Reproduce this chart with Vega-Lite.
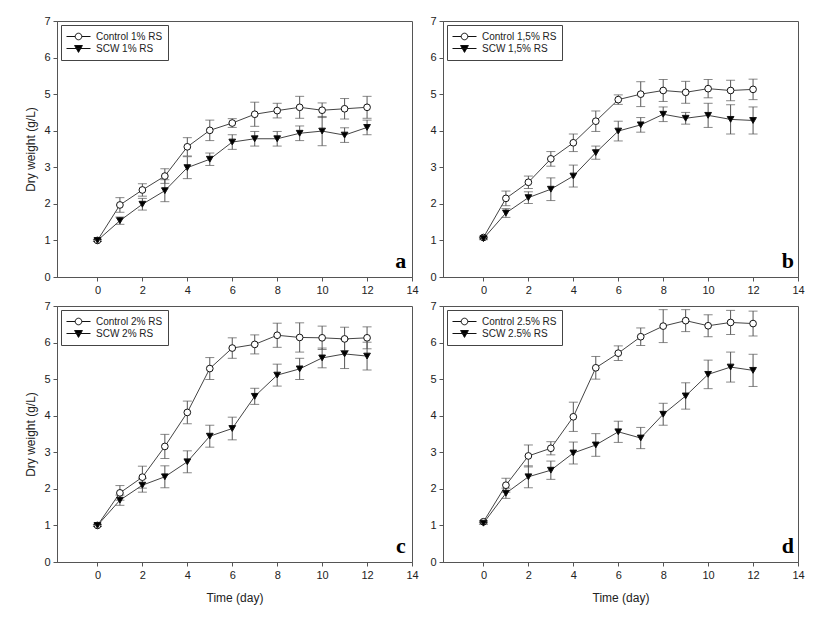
{
  "$schema": "https://vega.github.io/schema/vega-lite/v6.json",
  "background": "white",
  "padding": {"left": 24, "top": 14, "right": 5, "bottom": 5},
  "spacing": {"row": 3, "column": 10},
  "columns": 2,
  "datasets": {
    "a": [
      {"s": "Control 1% RS", "d": 0, "m": 1.0, "e": 0.03},
      {"s": "Control 1% RS", "d": 1, "m": 1.97, "e": 0.2},
      {"s": "Control 1% RS", "d": 2, "m": 2.38, "e": 0.17},
      {"s": "Control 1% RS", "d": 3, "m": 2.76, "e": 0.2},
      {"s": "Control 1% RS", "d": 4, "m": 3.56, "e": 0.25},
      {"s": "Control 1% RS", "d": 5, "m": 4.01, "e": 0.28},
      {"s": "Control 1% RS", "d": 6, "m": 4.21, "e": 0.12},
      {"s": "Control 1% RS", "d": 7, "m": 4.45, "e": 0.33},
      {"s": "Control 1% RS", "d": 8, "m": 4.55, "e": 0.2},
      {"s": "Control 1% RS", "d": 9, "m": 4.64, "e": 0.3},
      {"s": "Control 1% RS", "d": 10, "m": 4.56, "e": 0.2},
      {"s": "Control 1% RS", "d": 11, "m": 4.6, "e": 0.28},
      {"s": "Control 1% RS", "d": 12, "m": 4.64, "e": 0.3},
      {"s": "SCW 1% RS", "d": 0, "m": 1.0, "e": 0.03},
      {"s": "SCW 1% RS", "d": 1, "m": 1.54, "e": 0.1},
      {"s": "SCW 1% RS", "d": 2, "m": 1.99, "e": 0.16},
      {"s": "SCW 1% RS", "d": 3, "m": 2.36, "e": 0.3},
      {"s": "SCW 1% RS", "d": 4, "m": 2.99, "e": 0.3},
      {"s": "SCW 1% RS", "d": 5, "m": 3.22, "e": 0.17},
      {"s": "SCW 1% RS", "d": 6, "m": 3.69, "e": 0.2},
      {"s": "SCW 1% RS", "d": 7, "m": 3.78, "e": 0.2},
      {"s": "SCW 1% RS", "d": 8, "m": 3.78, "e": 0.2},
      {"s": "SCW 1% RS", "d": 9, "m": 3.93, "e": 0.2},
      {"s": "SCW 1% RS", "d": 10, "m": 3.99, "e": 0.4},
      {"s": "SCW 1% RS", "d": 11, "m": 3.88, "e": 0.2},
      {"s": "SCW 1% RS", "d": 12, "m": 4.09, "e": 0.2}
    ],
    "b": [
      {"s": "Control 1,5% RS", "d": 0, "m": 1.08, "e": 0.03},
      {"s": "Control 1,5% RS", "d": 1, "m": 2.15, "e": 0.2},
      {"s": "Control 1,5% RS", "d": 2, "m": 2.59, "e": 0.17},
      {"s": "Control 1,5% RS", "d": 3, "m": 3.23, "e": 0.2},
      {"s": "Control 1,5% RS", "d": 4, "m": 3.67, "e": 0.24},
      {"s": "Control 1,5% RS", "d": 5, "m": 4.26, "e": 0.28},
      {"s": "Control 1,5% RS", "d": 6, "m": 4.85, "e": 0.13},
      {"s": "Control 1,5% RS", "d": 7, "m": 5.0, "e": 0.34},
      {"s": "Control 1,5% RS", "d": 8, "m": 5.1, "e": 0.3},
      {"s": "Control 1,5% RS", "d": 9, "m": 5.05, "e": 0.3},
      {"s": "Control 1,5% RS", "d": 10, "m": 5.15, "e": 0.25},
      {"s": "Control 1,5% RS", "d": 11, "m": 5.1, "e": 0.28},
      {"s": "Control 1,5% RS", "d": 12, "m": 5.13, "e": 0.28},
      {"s": "SCW 1,5% RS", "d": 0, "m": 1.05, "e": 0.03},
      {"s": "SCW 1,5% RS", "d": 1, "m": 1.75, "e": 0.12},
      {"s": "SCW 1,5% RS", "d": 2, "m": 2.17, "e": 0.16},
      {"s": "SCW 1,5% RS", "d": 3, "m": 2.4, "e": 0.31},
      {"s": "SCW 1,5% RS", "d": 4, "m": 2.76, "e": 0.3},
      {"s": "SCW 1,5% RS", "d": 5, "m": 3.4, "e": 0.18},
      {"s": "SCW 1,5% RS", "d": 6, "m": 3.99, "e": 0.27},
      {"s": "SCW 1,5% RS", "d": 7, "m": 4.16, "e": 0.2},
      {"s": "SCW 1,5% RS", "d": 8, "m": 4.45, "e": 0.2},
      {"s": "SCW 1,5% RS", "d": 9, "m": 4.34, "e": 0.16},
      {"s": "SCW 1,5% RS", "d": 10, "m": 4.42, "e": 0.33},
      {"s": "SCW 1,5% RS", "d": 11, "m": 4.31, "e": 0.4},
      {"s": "SCW 1,5% RS", "d": 12, "m": 4.28, "e": 0.37}
    ],
    "c": [
      {"s": "Control 2% RS", "d": 0, "m": 1.0, "e": 0.03},
      {"s": "Control 2% RS", "d": 1, "m": 1.89, "e": 0.2},
      {"s": "Control 2% RS", "d": 2, "m": 2.32, "e": 0.3},
      {"s": "Control 2% RS", "d": 3, "m": 3.16, "e": 0.33},
      {"s": "Control 2% RS", "d": 4, "m": 4.09, "e": 0.31},
      {"s": "Control 2% RS", "d": 5, "m": 5.29, "e": 0.3},
      {"s": "Control 2% RS", "d": 6, "m": 5.85, "e": 0.28},
      {"s": "Control 2% RS", "d": 7, "m": 5.95, "e": 0.26},
      {"s": "Control 2% RS", "d": 8, "m": 6.2, "e": 0.33},
      {"s": "Control 2% RS", "d": 9, "m": 6.14, "e": 0.4},
      {"s": "Control 2% RS", "d": 10, "m": 6.13, "e": 0.32},
      {"s": "Control 2% RS", "d": 11, "m": 6.1, "e": 0.32},
      {"s": "Control 2% RS", "d": 12, "m": 6.13, "e": 0.3},
      {"s": "SCW 2% RS", "d": 0, "m": 1.0, "e": 0.03},
      {"s": "SCW 2% RS", "d": 1, "m": 1.69, "e": 0.14},
      {"s": "SCW 2% RS", "d": 2, "m": 2.1, "e": 0.19},
      {"s": "SCW 2% RS", "d": 3, "m": 2.33, "e": 0.3},
      {"s": "SCW 2% RS", "d": 4, "m": 2.74, "e": 0.3},
      {"s": "SCW 2% RS", "d": 5, "m": 3.44, "e": 0.3},
      {"s": "SCW 2% RS", "d": 6, "m": 3.65, "e": 0.31},
      {"s": "SCW 2% RS", "d": 7, "m": 4.53, "e": 0.22},
      {"s": "SCW 2% RS", "d": 8, "m": 5.11, "e": 0.3},
      {"s": "SCW 2% RS", "d": 9, "m": 5.28, "e": 0.29},
      {"s": "SCW 2% RS", "d": 10, "m": 5.58, "e": 0.27},
      {"s": "SCW 2% RS", "d": 11, "m": 5.69, "e": 0.4},
      {"s": "SCW 2% RS", "d": 12, "m": 5.63, "e": 0.38}
    ],
    "d": [
      {"s": "Control 2.5% RS", "d": 0, "m": 1.1, "e": 0.03},
      {"s": "Control 2.5% RS", "d": 1, "m": 2.1, "e": 0.19},
      {"s": "Control 2.5% RS", "d": 2, "m": 2.9, "e": 0.3},
      {"s": "Control 2.5% RS", "d": 3, "m": 3.11, "e": 0.18},
      {"s": "Control 2.5% RS", "d": 4, "m": 3.97, "e": 0.4},
      {"s": "Control 2.5% RS", "d": 5, "m": 5.31, "e": 0.31},
      {"s": "Control 2.5% RS", "d": 6, "m": 5.71, "e": 0.2},
      {"s": "Control 2.5% RS", "d": 7, "m": 6.16, "e": 0.24},
      {"s": "Control 2.5% RS", "d": 8, "m": 6.45, "e": 0.45},
      {"s": "Control 2.5% RS", "d": 9, "m": 6.6, "e": 0.3},
      {"s": "Control 2.5% RS", "d": 10, "m": 6.46, "e": 0.3},
      {"s": "Control 2.5% RS", "d": 11, "m": 6.55, "e": 0.33},
      {"s": "Control 2.5% RS", "d": 12, "m": 6.52, "e": 0.34},
      {"s": "SCW 2.5% RS", "d": 0, "m": 1.06, "e": 0.03},
      {"s": "SCW 2.5% RS", "d": 1, "m": 1.88, "e": 0.14},
      {"s": "SCW 2.5% RS", "d": 2, "m": 2.33, "e": 0.3},
      {"s": "SCW 2.5% RS", "d": 3, "m": 2.51, "e": 0.25},
      {"s": "SCW 2.5% RS", "d": 4, "m": 2.98, "e": 0.3},
      {"s": "SCW 2.5% RS", "d": 5, "m": 3.2, "e": 0.31},
      {"s": "SCW 2.5% RS", "d": 6, "m": 3.56, "e": 0.29},
      {"s": "SCW 2.5% RS", "d": 7, "m": 3.39, "e": 0.29},
      {"s": "SCW 2.5% RS", "d": 8, "m": 4.04, "e": 0.3},
      {"s": "SCW 2.5% RS", "d": 9, "m": 4.54, "e": 0.36},
      {"s": "SCW 2.5% RS", "d": 10, "m": 5.13, "e": 0.39},
      {"s": "SCW 2.5% RS", "d": 11, "m": 5.33, "e": 0.41},
      {"s": "SCW 2.5% RS", "d": 12, "m": 5.24, "e": 0.44}
    ]
  },
  "concat": [
    {
      "width": 355, "height": 256,
      "data": {"name": "a"},
      "layer": [
        {"mark": {"type": "errorbar", "color": "#555", "ticks": {"size": 9, "color": "#555"}},
         "encoding": {
           "x": {"field": "d", "type": "quantitative", "scale": {"domain": [-1.8, 14], "nice": false, "zero": false}, "axis": {"title": null, "values": [0, 2, 4, 6, 8, 10, 12, 14]}},
           "y": {"field": "m", "type": "quantitative", "scale": {"domain": [0, 7], "nice": false}, "axis": {"title": "Dry weight (g/L)", "values": [0, 1, 2, 3, 4, 5, 6, 7]}},
           "yError": {"field": "e"}}},
        {"mark": {"type": "line", "color": "#444", "strokeWidth": 1},
         "encoding": {
           "x": {"field": "d", "type": "quantitative", "scale": {"domain": [-1.8, 14], "nice": false, "zero": false}, "axis": {"title": null, "values": [0, 2, 4, 6, 8, 10, 12, 14]}},
           "y": {"field": "m", "type": "quantitative", "scale": {"domain": [0, 7], "nice": false}, "axis": {"title": "Dry weight (g/L)", "values": [0, 1, 2, 3, 4, 5, 6, 7]}},
           "detail": {"field": "s"}}},
        {"mark": {"type": "point", "filled": true, "opacity": 1, "stroke": "#111", "strokeWidth": 1, "size": 45},
         "encoding": {
           "x": {"field": "d", "type": "quantitative", "scale": {"domain": [-1.8, 14], "nice": false, "zero": false}, "axis": {"title": null, "values": [0, 2, 4, 6, 8, 10, 12, 14]}},
           "y": {"field": "m", "type": "quantitative", "scale": {"domain": [0, 7], "nice": false}, "axis": {"title": "Dry weight (g/L)", "values": [0, 1, 2, 3, 4, 5, 6, 7]}},
           "shape": {"condition": {"test": "indexof(datum.s,'SCW')===0", "value": "triangle-down"}, "value": "circle"},
           "fill": {"condition": {"test": "indexof(datum.s,'SCW')===0", "value": "black"}, "value": "white"}}},
        {"mark": {"type": "point", "filled": true, "opacity": 0, "stroke": "#111", "strokeWidth": 1},
         "encoding": {
           "x": {"field": "d", "type": "quantitative", "scale": {"domain": [-1.8, 14], "nice": false, "zero": false}, "axis": {"title": null, "values": [0, 2, 4, 6, 8, 10, 12, 14]}},
           "y": {"field": "m", "type": "quantitative", "scale": {"domain": [0, 7], "nice": false}, "axis": {"title": "Dry weight (g/L)", "values": [0, 1, 2, 3, 4, 5, 6, 7]}},
           "shape": {"field": "s", "type": "nominal", "scale": {"domain": ["Control 1% RS", "SCW 1% RS"], "range": ["M-2,0H-0.55M0.55,0H2M-0.55,0A0.55,0.55,0,1,0,0.55,0A0.55,0.55,0,1,0,-0.55,0Z", "M-2,0H2M-0.65,-0.5L0.65,-0.5L0,0.65Z"]}, "legend": {"title": null}},
           "color": {"field": "s", "type": "nominal", "scale": {"domain": ["Control 1% RS", "SCW 1% RS"], "range": ["white", "black"]}, "legend": {"title": null}}}},
        {"data": {"values": [{"t": "a"}]},
         "mark": {"type": "text", "font": "Liberation Serif", "fontWeight": "bold", "fontSize": 22, "align": "center", "baseline": "alphabetic", "color": "black"},
         "encoding": {
           "x": {"datum": 13.5, "type": "quantitative", "scale": {"domain": [-1.8, 14], "nice": false, "zero": false}, "axis": {"title": null, "values": [0, 2, 4, 6, 8, 10, 12, 14]}},
           "y": {"datum": 0.25, "type": "quantitative", "scale": {"domain": [0, 7], "nice": false}, "axis": {"title": "Dry weight (g/L)", "values": [0, 1, 2, 3, 4, 5, 6, 7]}},
           "text": {"field": "t"}}}
      ]
    },
    {
      "width": 355, "height": 256,
      "data": {"name": "b"},
      "layer": [
        {"mark": {"type": "errorbar", "color": "#555", "ticks": {"size": 9, "color": "#555"}},
         "encoding": {
           "x": {"field": "d", "type": "quantitative", "scale": {"domain": [-1.8, 14], "nice": false, "zero": false}, "axis": {"title": null, "values": [0, 2, 4, 6, 8, 10, 12, 14]}},
           "y": {"field": "m", "type": "quantitative", "scale": {"domain": [0, 7], "nice": false}, "axis": {"title": null, "values": [0, 1, 2, 3, 4, 5, 6, 7]}},
           "yError": {"field": "e"}}},
        {"mark": {"type": "line", "color": "#444", "strokeWidth": 1},
         "encoding": {
           "x": {"field": "d", "type": "quantitative", "scale": {"domain": [-1.8, 14], "nice": false, "zero": false}, "axis": {"title": null, "values": [0, 2, 4, 6, 8, 10, 12, 14]}},
           "y": {"field": "m", "type": "quantitative", "scale": {"domain": [0, 7], "nice": false}, "axis": {"title": null, "values": [0, 1, 2, 3, 4, 5, 6, 7]}},
           "detail": {"field": "s"}}},
        {"mark": {"type": "point", "filled": true, "opacity": 1, "stroke": "#111", "strokeWidth": 1, "size": 45},
         "encoding": {
           "x": {"field": "d", "type": "quantitative", "scale": {"domain": [-1.8, 14], "nice": false, "zero": false}, "axis": {"title": null, "values": [0, 2, 4, 6, 8, 10, 12, 14]}},
           "y": {"field": "m", "type": "quantitative", "scale": {"domain": [0, 7], "nice": false}, "axis": {"title": null, "values": [0, 1, 2, 3, 4, 5, 6, 7]}},
           "shape": {"condition": {"test": "indexof(datum.s,'SCW')===0", "value": "triangle-down"}, "value": "circle"},
           "fill": {"condition": {"test": "indexof(datum.s,'SCW')===0", "value": "black"}, "value": "white"}}},
        {"mark": {"type": "point", "filled": true, "opacity": 0, "stroke": "#111", "strokeWidth": 1},
         "encoding": {
           "x": {"field": "d", "type": "quantitative", "scale": {"domain": [-1.8, 14], "nice": false, "zero": false}, "axis": {"title": null, "values": [0, 2, 4, 6, 8, 10, 12, 14]}},
           "y": {"field": "m", "type": "quantitative", "scale": {"domain": [0, 7], "nice": false}, "axis": {"title": null, "values": [0, 1, 2, 3, 4, 5, 6, 7]}},
           "shape": {"field": "s", "type": "nominal", "scale": {"domain": ["Control 1,5% RS", "SCW 1,5% RS"], "range": ["M-2,0H-0.55M0.55,0H2M-0.55,0A0.55,0.55,0,1,0,0.55,0A0.55,0.55,0,1,0,-0.55,0Z", "M-2,0H2M-0.65,-0.5L0.65,-0.5L0,0.65Z"]}, "legend": {"title": null}},
           "color": {"field": "s", "type": "nominal", "scale": {"domain": ["Control 1,5% RS", "SCW 1,5% RS"], "range": ["white", "black"]}, "legend": {"title": null}}}},
        {"data": {"values": [{"t": "b"}]},
         "mark": {"type": "text", "font": "Liberation Serif", "fontWeight": "bold", "fontSize": 22, "align": "center", "baseline": "alphabetic", "color": "black"},
         "encoding": {
           "x": {"datum": 13.55, "type": "quantitative", "scale": {"domain": [-1.8, 14], "nice": false, "zero": false}, "axis": {"title": null, "values": [0, 2, 4, 6, 8, 10, 12, 14]}},
           "y": {"datum": 0.25, "type": "quantitative", "scale": {"domain": [0, 7], "nice": false}, "axis": {"title": null, "values": [0, 1, 2, 3, 4, 5, 6, 7]}},
           "text": {"field": "t"}}}
      ]
    },
    {
      "width": 355, "height": 256,
      "data": {"name": "c"},
      "layer": [
        {"mark": {"type": "errorbar", "color": "#555", "ticks": {"size": 9, "color": "#555"}},
         "encoding": {
           "x": {"field": "d", "type": "quantitative", "scale": {"domain": [-1.8, 14], "nice": false, "zero": false}, "axis": {"title": "Time (day)", "values": [0, 2, 4, 6, 8, 10, 12, 14]}},
           "y": {"field": "m", "type": "quantitative", "scale": {"domain": [0, 7], "nice": false}, "axis": {"title": "Dry weight (g/L)", "values": [0, 1, 2, 3, 4, 5, 6, 7]}},
           "yError": {"field": "e"}}},
        {"mark": {"type": "line", "color": "#444", "strokeWidth": 1},
         "encoding": {
           "x": {"field": "d", "type": "quantitative", "scale": {"domain": [-1.8, 14], "nice": false, "zero": false}, "axis": {"title": "Time (day)", "values": [0, 2, 4, 6, 8, 10, 12, 14]}},
           "y": {"field": "m", "type": "quantitative", "scale": {"domain": [0, 7], "nice": false}, "axis": {"title": "Dry weight (g/L)", "values": [0, 1, 2, 3, 4, 5, 6, 7]}},
           "detail": {"field": "s"}}},
        {"mark": {"type": "point", "filled": true, "opacity": 1, "stroke": "#111", "strokeWidth": 1, "size": 45},
         "encoding": {
           "x": {"field": "d", "type": "quantitative", "scale": {"domain": [-1.8, 14], "nice": false, "zero": false}, "axis": {"title": "Time (day)", "values": [0, 2, 4, 6, 8, 10, 12, 14]}},
           "y": {"field": "m", "type": "quantitative", "scale": {"domain": [0, 7], "nice": false}, "axis": {"title": "Dry weight (g/L)", "values": [0, 1, 2, 3, 4, 5, 6, 7]}},
           "shape": {"condition": {"test": "indexof(datum.s,'SCW')===0", "value": "triangle-down"}, "value": "circle"},
           "fill": {"condition": {"test": "indexof(datum.s,'SCW')===0", "value": "black"}, "value": "white"}}},
        {"mark": {"type": "point", "filled": true, "opacity": 0, "stroke": "#111", "strokeWidth": 1},
         "encoding": {
           "x": {"field": "d", "type": "quantitative", "scale": {"domain": [-1.8, 14], "nice": false, "zero": false}, "axis": {"title": "Time (day)", "values": [0, 2, 4, 6, 8, 10, 12, 14]}},
           "y": {"field": "m", "type": "quantitative", "scale": {"domain": [0, 7], "nice": false}, "axis": {"title": "Dry weight (g/L)", "values": [0, 1, 2, 3, 4, 5, 6, 7]}},
           "shape": {"field": "s", "type": "nominal", "scale": {"domain": ["Control 2% RS", "SCW 2% RS"], "range": ["M-2,0H-0.55M0.55,0H2M-0.55,0A0.55,0.55,0,1,0,0.55,0A0.55,0.55,0,1,0,-0.55,0Z", "M-2,0H2M-0.65,-0.5L0.65,-0.5L0,0.65Z"]}, "legend": {"title": null}},
           "color": {"field": "s", "type": "nominal", "scale": {"domain": ["Control 2% RS", "SCW 2% RS"], "range": ["white", "black"]}, "legend": {"title": null}}}},
        {"data": {"values": [{"t": "c"}]},
         "mark": {"type": "text", "font": "Liberation Serif", "fontWeight": "bold", "fontSize": 22, "align": "center", "baseline": "alphabetic", "color": "black"},
         "encoding": {
           "x": {"datum": 13.5, "type": "quantitative", "scale": {"domain": [-1.8, 14], "nice": false, "zero": false}, "axis": {"title": "Time (day)", "values": [0, 2, 4, 6, 8, 10, 12, 14]}},
           "y": {"datum": 0.25, "type": "quantitative", "scale": {"domain": [0, 7], "nice": false}, "axis": {"title": "Dry weight (g/L)", "values": [0, 1, 2, 3, 4, 5, 6, 7]}},
           "text": {"field": "t"}}}
      ]
    },
    {
      "width": 355, "height": 256,
      "data": {"name": "d"},
      "layer": [
        {"mark": {"type": "errorbar", "color": "#555", "ticks": {"size": 9, "color": "#555"}},
         "encoding": {
           "x": {"field": "d", "type": "quantitative", "scale": {"domain": [-1.8, 14], "nice": false, "zero": false}, "axis": {"title": "Time (day)", "values": [0, 2, 4, 6, 8, 10, 12, 14]}},
           "y": {"field": "m", "type": "quantitative", "scale": {"domain": [0, 7], "nice": false}, "axis": {"title": null, "values": [0, 1, 2, 3, 4, 5, 6, 7]}},
           "yError": {"field": "e"}}},
        {"mark": {"type": "line", "color": "#444", "strokeWidth": 1},
         "encoding": {
           "x": {"field": "d", "type": "quantitative", "scale": {"domain": [-1.8, 14], "nice": false, "zero": false}, "axis": {"title": "Time (day)", "values": [0, 2, 4, 6, 8, 10, 12, 14]}},
           "y": {"field": "m", "type": "quantitative", "scale": {"domain": [0, 7], "nice": false}, "axis": {"title": null, "values": [0, 1, 2, 3, 4, 5, 6, 7]}},
           "detail": {"field": "s"}}},
        {"mark": {"type": "point", "filled": true, "opacity": 1, "stroke": "#111", "strokeWidth": 1, "size": 45},
         "encoding": {
           "x": {"field": "d", "type": "quantitative", "scale": {"domain": [-1.8, 14], "nice": false, "zero": false}, "axis": {"title": "Time (day)", "values": [0, 2, 4, 6, 8, 10, 12, 14]}},
           "y": {"field": "m", "type": "quantitative", "scale": {"domain": [0, 7], "nice": false}, "axis": {"title": null, "values": [0, 1, 2, 3, 4, 5, 6, 7]}},
           "shape": {"condition": {"test": "indexof(datum.s,'SCW')===0", "value": "triangle-down"}, "value": "circle"},
           "fill": {"condition": {"test": "indexof(datum.s,'SCW')===0", "value": "black"}, "value": "white"}}},
        {"mark": {"type": "point", "filled": true, "opacity": 0, "stroke": "#111", "strokeWidth": 1},
         "encoding": {
           "x": {"field": "d", "type": "quantitative", "scale": {"domain": [-1.8, 14], "nice": false, "zero": false}, "axis": {"title": "Time (day)", "values": [0, 2, 4, 6, 8, 10, 12, 14]}},
           "y": {"field": "m", "type": "quantitative", "scale": {"domain": [0, 7], "nice": false}, "axis": {"title": null, "values": [0, 1, 2, 3, 4, 5, 6, 7]}},
           "shape": {"field": "s", "type": "nominal", "scale": {"domain": ["Control 2.5% RS", "SCW 2.5% RS"], "range": ["M-2,0H-0.55M0.55,0H2M-0.55,0A0.55,0.55,0,1,0,0.55,0A0.55,0.55,0,1,0,-0.55,0Z", "M-2,0H2M-0.65,-0.5L0.65,-0.5L0,0.65Z"]}, "legend": {"title": null}},
           "color": {"field": "s", "type": "nominal", "scale": {"domain": ["Control 2.5% RS", "SCW 2.5% RS"], "range": ["white", "black"]}, "legend": {"title": null}}}},
        {"data": {"values": [{"t": "d"}]},
         "mark": {"type": "text", "font": "Liberation Serif", "fontWeight": "bold", "fontSize": 22, "align": "center", "baseline": "alphabetic", "color": "black"},
         "encoding": {
           "x": {"datum": 13.55, "type": "quantitative", "scale": {"domain": [-1.8, 14], "nice": false, "zero": false}, "axis": {"title": "Time (day)", "values": [0, 2, 4, 6, 8, 10, 12, 14]}},
           "y": {"datum": 0.25, "type": "quantitative", "scale": {"domain": [0, 7], "nice": false}, "axis": {"title": null, "values": [0, 1, 2, 3, 4, 5, 6, 7]}},
           "text": {"field": "t"}}}
      ]
    }
  ],
  "resolve": {
    "scale": {"shape": "independent", "color": "independent"},
    "legend": {"shape": "independent", "color": "independent"}
  },
  "config": {
    "view": {"stroke": "#555", "strokeWidth": 1},
    "axis": {
      "grid": false,
      "domainColor": "#555",
      "tickColor": "#555",
      "tickSize": 4,
      "labelPadding": 3,
      "labelFont": "Liberation Sans",
      "labelFontSize": 11,
      "labelColor": "#222",
      "labelFlush": false,
      "labelOverlap": false,
      "titleFont": "Liberation Sans",
      "titleFontSize": 12,
      "titleFontWeight": "normal",
      "titleColor": "#222"
    },
    "axisY": {"titlePadding": 6},
    "axisX": {"titlePadding": 12},
    "legend": {
      "orient": "top-left",
      "offset": 4,
      "padding": 5,
      "strokeColor": "#444",
      "fillColor": "white",
      "labelFont": "Liberation Sans",
      "labelFontSize": 10,
      "labelColor": "#222",
      "symbolSize": 144,
      "symbolStrokeWidth": 1,
      "symbolOffset": 6,
      "labelOffset": 11,
      "rowPadding": 0
    }
  }
}
